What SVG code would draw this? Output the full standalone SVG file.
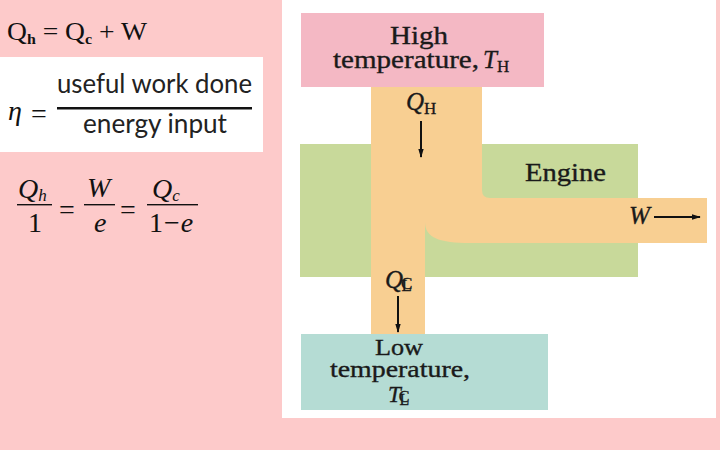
<svg xmlns="http://www.w3.org/2000/svg" width="720" height="450" viewBox="0 0 720 450">
<defs>
<style>
.ser{font-family:"Liberation Serif","Times New Roman",serif;fill:#111}
.it{font-style:italic}
.cal{font-family:Lato,"Open Sans",sans-serif;fill:#222}
.lbl{font-family:"Liberation Serif","Times New Roman",serif;fill:#1a1a1a;font-size:25px;stroke:#1a1a1a;stroke-width:0.35}
.sm{font-size:23px}
.arr{stroke:#111;stroke-width:2;fill:none}
</style>
<marker id="ahd" viewBox="0 0 10 10" refX="9" refY="5" markerWidth="9" markerHeight="12" orient="auto" markerUnits="userSpaceOnUse">
<path d="M0,2 L10,5 L0,8 Z" fill="#111"/>
</marker>
</defs>
<rect x="0" y="0" width="720" height="450" fill="#fdcaca"/>
<g id="eq1">
<text class="ser" x="7" y="40" font-size="26" textLength="140" lengthAdjust="spacingAndGlyphs">Q<tspan font-size="15" font-weight="bold" dy="4">h</tspan><tspan dy="-4"> = Q</tspan><tspan font-size="15" font-weight="bold" dy="4">c</tspan><tspan dy="-4"> + W</tspan></text>
</g>
<g id="eq2">
<rect x="0" y="57" width="263" height="95" fill="#ffffff"/>
<text class="ser it" x="8" y="120" font-size="28">η</text>
<text class="ser" x="31" y="123" font-size="28">=</text>
<text class="cal" x="57" y="93" font-size="27" textLength="195" lengthAdjust="spacingAndGlyphs">useful work done</text>
<rect x="57" y="107" width="195" height="2.5" fill="#111"/>
<text class="cal" x="83" y="133" font-size="27" textLength="144" lengthAdjust="spacingAndGlyphs">energy input</text>
</g>
<g id="eq3">
<text class="ser it" x="18" y="198" font-size="28">Q<tspan font-size="17" dy="3">h</tspan></text>
<rect x="17" y="204" width="35" height="1.4" fill="#111"/>
<text class="ser" x="28" y="232" font-size="28">1</text>
<text class="ser" x="59" y="219" font-size="28">=</text>
<text class="ser it" x="87" y="197" font-size="28">W</text>
<rect x="84" y="204" width="31" height="1.4" fill="#111"/>
<text class="ser it" x="94" y="232" font-size="28">e</text>
<text class="ser" x="120" y="219" font-size="28">=</text>
<text class="ser it" x="152" y="198" font-size="28">Q<tspan font-size="17" dy="3">c</tspan></text>
<rect x="147" y="204" width="51" height="1.4" fill="#111"/>
<text class="ser" x="149" y="232" font-size="28">1<tspan dx="1">−</tspan><tspan font-style="italic" dx="1">e</tspan></text>
</g>
<rect x="282" y="0" width="434" height="418" fill="#ffffff"/>
<g id="engine">
<rect x="300" y="144" width="338" height="133" fill="#c8d99a"/>
</g>
<g id="connectors">
<path d="M371,87 H482 V190 Q482,198 490,198 H707 V243 H470 C440,243 425,238 425,222 V334 H371 Z" fill="#f8cf92"/>
<line class="arr" x1="421" y1="121" x2="421" y2="157" marker-end="url(#ahd)"/>
<line class="arr" x1="398" y1="296" x2="398" y2="332" marker-end="url(#ahd)"/>
<line class="arr" x1="654" y1="217" x2="700" y2="217" marker-end="url(#ahd)"/>
<text class="lbl it" x="406" y="110">Q<tspan font-style="normal" font-size="17" dy="4">H</tspan></text>
<text class="lbl it" x="629" y="224">W</text>
<text class="lbl it" x="385" y="288">Q<tspan font-style="normal" font-size="17" dx="-2" dy="1">C</tspan><tspan font-style="normal" font-size="17" dx="-11" dy="2">L</tspan></text>
</g>
<g id="engine-label">
<text class="lbl" x="525" y="181" textLength="81" lengthAdjust="spacingAndGlyphs">Engine</text>
</g>
<g id="high">
<rect x="301" y="13" width="243" height="74" fill="#f4b8c4"/>
<text class="lbl" x="390" y="44" textLength="58" lengthAdjust="spacingAndGlyphs">High</text>
<text class="lbl" x="333" y="68" textLength="146" lengthAdjust="spacingAndGlyphs">temperature,</text>
<text class="lbl it" x="483" y="68">T<tspan font-style="normal" font-size="17" dy="4">H</tspan></text>
</g>
<g id="low">
<rect x="301" y="334" width="247" height="76" fill="#b5dcd4"/>
<text class="lbl sm" x="375" y="355" textLength="48" lengthAdjust="spacingAndGlyphs">Low</text>
<text class="lbl sm" x="330" y="377" textLength="140" lengthAdjust="spacingAndGlyphs">temperature,</text>
<text class="lbl sm it" x="388" y="402">T<tspan font-style="normal" font-size="16" dx="-2" dy="0">C</tspan><tspan font-style="normal" font-size="16" dx="-10" dy="3">L</tspan></text>
</g>
</svg>
